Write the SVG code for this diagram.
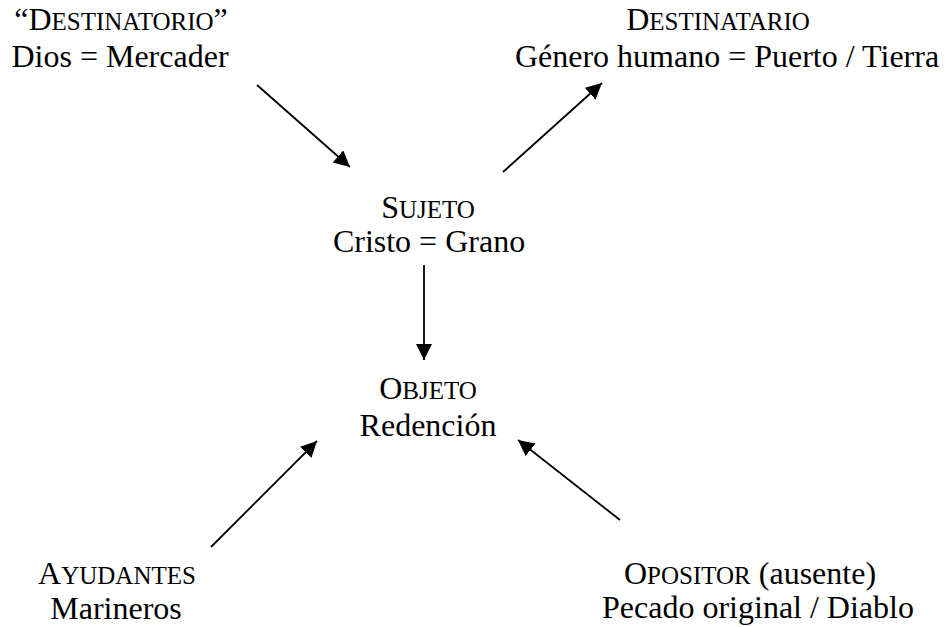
<svg xmlns="http://www.w3.org/2000/svg" width="948" height="627" viewBox="0 0 948 627">
<style>
text{font-family:"Liberation Serif","Times New Roman",serif;font-size:32px;fill:#000;text-anchor:middle}
.sc{font-size:25px}
.c{stroke:#000;stroke-width:1.8;fill:none}
</style>
<defs>
<marker id="ah" markerUnits="userSpaceOnUse" markerWidth="18" markerHeight="18" refX="16" refY="8" orient="auto">
<path d="M0,0 L16,8 L0,16 Z" fill="#000"/>
</marker>
</defs>
<rect width="948" height="627" fill="#fff"/>
<g id="connectors">
<line class="c" x1="257" y1="85" x2="350" y2="167" marker-end="url(#ah)"/>
<line class="c" x1="503" y1="172" x2="602" y2="83" marker-end="url(#ah)"/>
<line class="c" x1="424" y1="265" x2="424" y2="360" marker-end="url(#ah)"/>
<line class="c" x1="211" y1="547" x2="317" y2="441" marker-end="url(#ah)"/>
<line class="c" x1="620" y1="520" x2="518" y2="440" marker-end="url(#ah)"/>
</g>
<g id="destinatorio">
<text x="121" y="30">“D<tspan class="sc">ESTINATORIO</tspan>”</text>
<text x="120" y="67">Dios = Mercader</text>
</g>
<g id="destinatario">
<text x="718" y="30">D<tspan class="sc">ESTINATARIO</tspan></text>
<text x="727" y="67">Género humano = Puerto / Tierra</text>
</g>
<g id="sujeto">
<text x="428" y="218">S<tspan class="sc">UJETO</tspan></text>
<text x="429" y="252">Cristo = Grano</text>
</g>
<g id="objeto">
<text x="428" y="399">O<tspan class="sc">BJETO</tspan></text>
<text x="428" y="436">Redención</text>
</g>
<g id="ayudantes">
<text x="117" y="584">A<tspan class="sc">YUDANTES</tspan></text>
<text x="116" y="619">Marineros</text>
</g>
<g id="opositor">
<text x="750" y="584">O<tspan class="sc">POSITOR</tspan> (ausente)</text>
<text x="758" y="618">Pecado original / Diablo</text>
</g>
</svg>
